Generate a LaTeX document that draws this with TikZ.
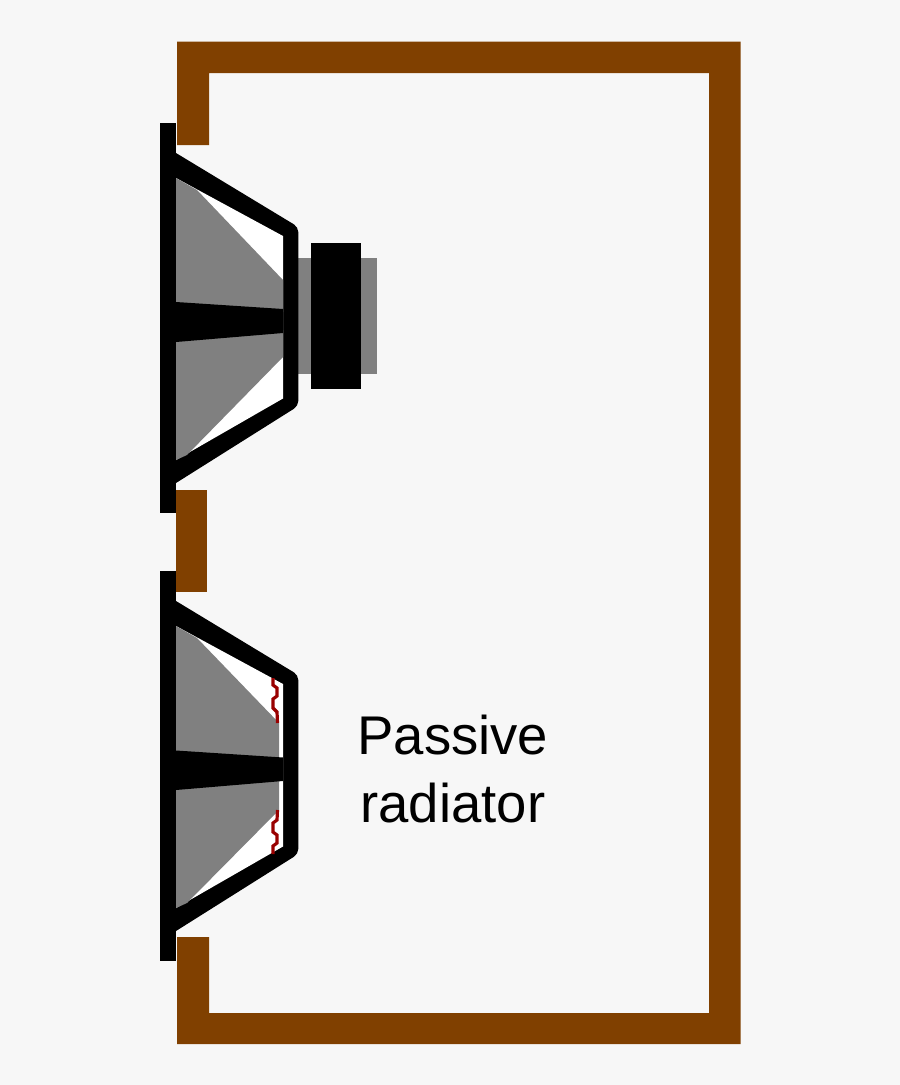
\documentclass[tikz,border=0pt]{standalone}
\usepackage{fontspec}
\setmainfont[Kerning=Off]{Liberation Sans}
\definecolor{pagebg}{HTML}{F7F7F7}
\definecolor{wood}{HTML}{804000}
\definecolor{conegray}{HTML}{808080}
\definecolor{surround}{HTML}{990000}
\tikzset{
  woodpart/.style={fill=wood,draw=none},
  blackpart/.style={fill=black,draw=none},
  graypart/.style={fill=conegray,draw=none},
  basket/.style={fill=black,draw=none,rounded corners=5pt},
  basketgap/.style={fill=white,draw=none},
  surroundline/.style={draw=surround,line width=3.2pt,line join=miter},
  caption/.style={font=\fontsize{54.5}{68}\selectfont,align=center,inner sep=0pt,text=black}
}
% One chassis: baffle strip, frame and open interior
\newcommand{\chassis}{%
  \fill[blackpart] (160.2,123) rectangle (176,513);
  \fill[basket] (170,149.4) -- (176,153) -- (298.3,227) -- (298.3,406) -- (176,483) -- (170,486.8) -- cycle;
  \fill[basketgap] (176,178) -- (283,236) -- (283,398.5) -- (176,460) -- cycle;
}
\begin{document}
\begin{tikzpicture}[x=1pt,y=-1pt]
  \useasboundingbox (0,0) rectangle (900,1085);
  \fill[pagebg] (0,0) rectangle (900,1085);

  % Enclosure walls
  \fill[woodpart] (177.2,145) -- (177.2,41.5) -- (740.5,41.5) -- (740.5,1044.2)
    -- (177.2,1044.2) -- (177.2,937) -- (209,937) -- (209,1013) -- (709,1013)
    -- (709,73) -- (209,73) -- (209,145) -- cycle;
  \fill[woodpart] (176,490) rectangle (207.3,592);

  % Driver, with its motor behind the frame
  \fill[graypart] (298,258.2) rectangle (377,374.2);
  \fill[blackpart] (311.2,243) rectangle (361.2,389.3);
  \chassis
  \fill[graypart] (176,178) -- (197,190) -- (283,280) -- (283,312) -- (176,305) -- cycle;
  \fill[graypart] (176,339) -- (283,330) -- (283,357) -- (187,455) -- (176,460) -- cycle;
  \fill[blackpart] (176,302) -- (283,309) -- (283,333) -- (176,342) -- cycle;

  % Passive radiator
  \begin{scope}[shift={(0,448)}]
    \chassis
  \end{scope}
  \fill[graypart] (176,626) -- (197,638) -- (279,723) -- (279,760) -- (176,754) -- cycle;
  \fill[graypart] (176,787) -- (279,778) -- (279,810) -- (187,903) -- (176,908) -- cycle;
  \draw[surroundline] (273,678) -- (273,685) -- (277,688) -- (277,696) -- (273,699)
    -- (273,708) -- (277,712) -- (277.5,723);
  \draw[surroundline] (277.5,810) -- (277,820) -- (273,823) -- (273,832) -- (277,835)
    -- (277,843) -- (273,846) -- (273,854);
  \fill[blackpart] (176,750.5) -- (283,757.5) -- (283,781) -- (176,790) -- cycle;

  \node[caption] (label) at (452.8,769.5) {Passive\\radiator};
\end{tikzpicture}
\end{document}
